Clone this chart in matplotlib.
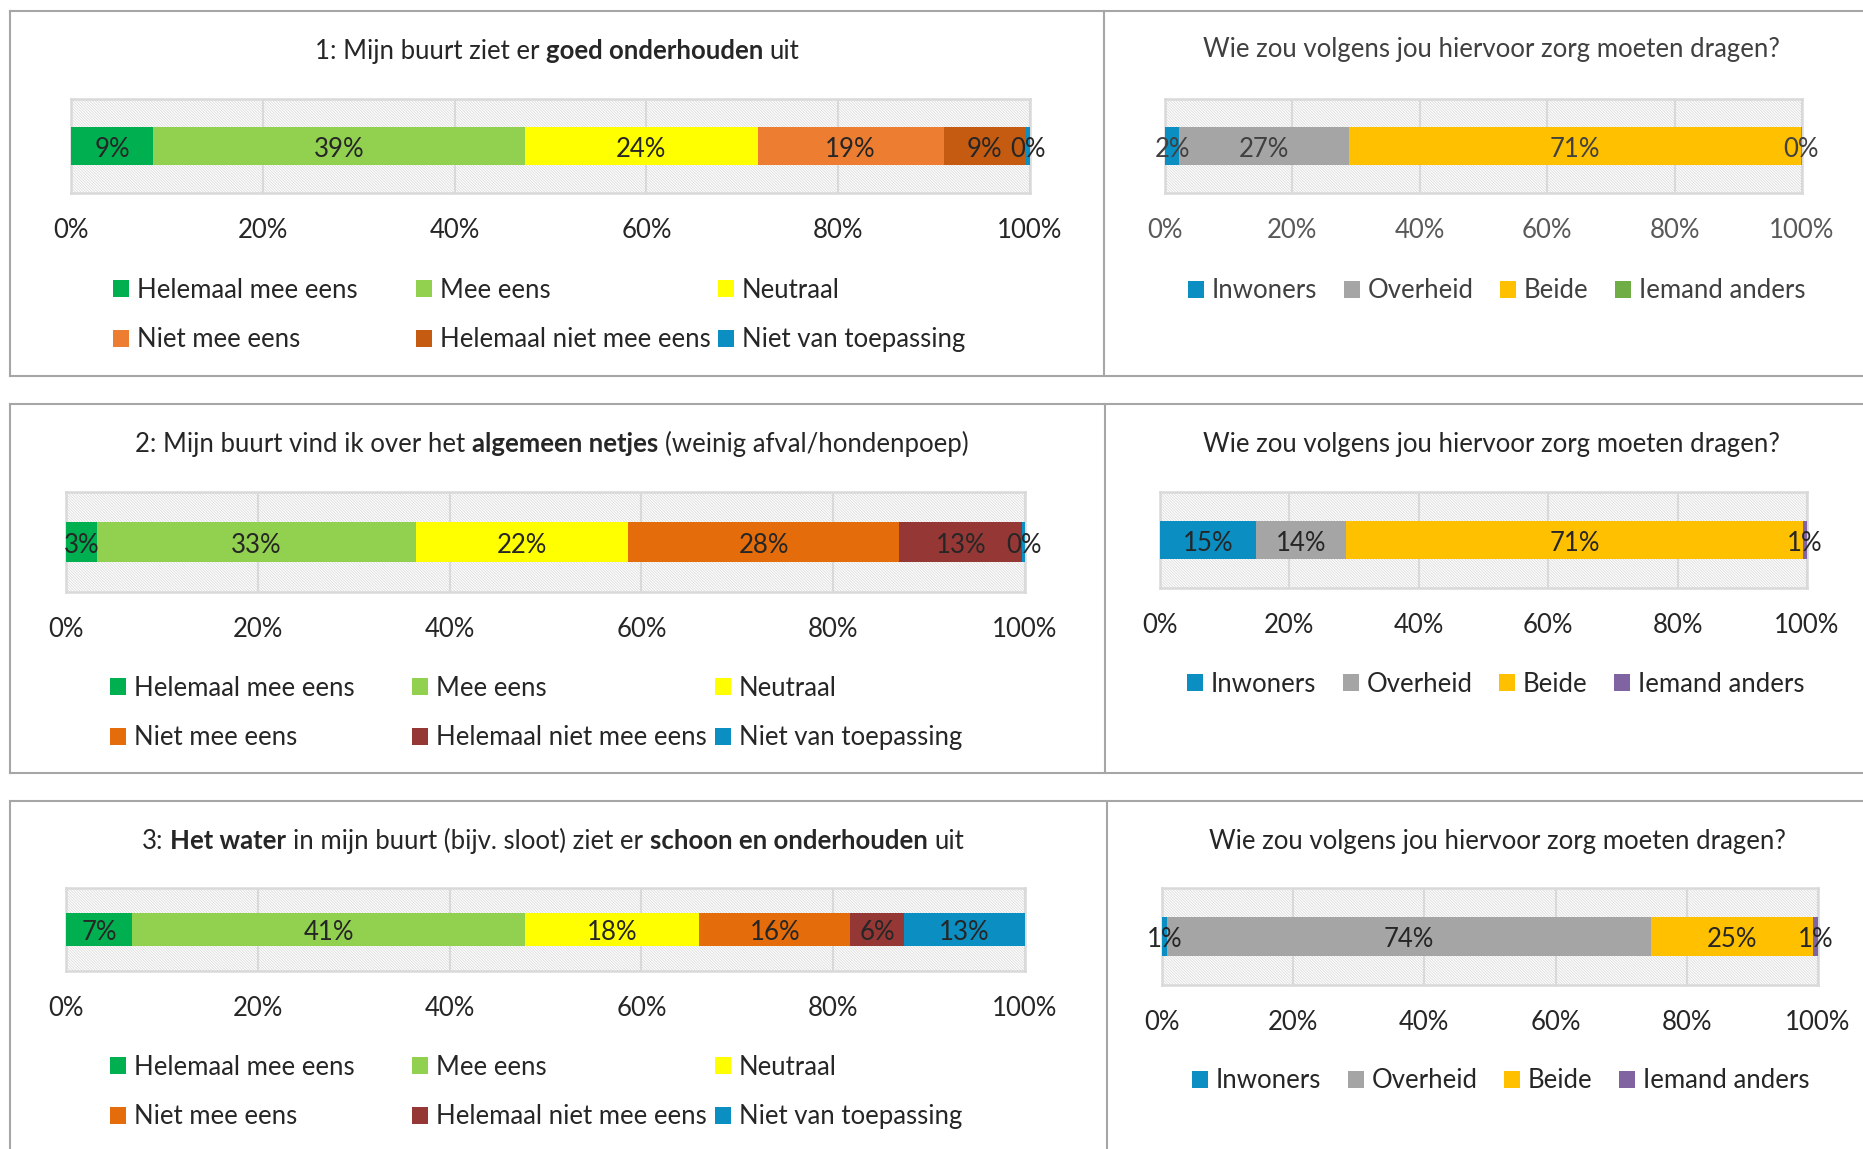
import matplotlib
matplotlib.use("Agg")
import matplotlib.pyplot as plt
from matplotlib.patches import Rectangle
from matplotlib.lines import Line2D

plt.rcParams['font.family'] = ['Lato', 'DejaVu Sans']
plt.rcParams['hatch.color'] = '#D9D9D9'
plt.rcParams['hatch.linewidth'] = 0.55

# data (percent per answer)
agree_cats = ["Helemaal mee eens", "Mee eens", "Neutraal", "Niet mee eens",
              "Helemaal niet mee eens", "Niet van toepassing"]
who_cats = ["Inwoners", "Overheid", "Beide", "Iemand anders"]

q1_vals = [8.6, 38.7, 24.3, 19.4, 8.6, 0.4]
q2_vals = [3.2, 33.3, 22.1, 28.3, 12.8, 0.3]
q3_vals = [6.9, 41.0, 18.1, 15.8, 5.6, 12.6]

who1_vals = [2.2, 26.7, 70.9, 0.2]
who2_vals = [14.8, 13.9, 70.7, 0.6]
who3_vals = [0.7, 73.9, 24.6, 0.8]

ticks = [0, 20, 40, 60, 80, 100]
tick_labels = ["0%", "20%", "40%", "60%", "80%", "100%"]

q1_title = [("1: Mijn buurt ziet er", "normal"), ("goed onderhouden", "bold"), ("uit", "normal")]
q2_title = [("2: Mijn buurt vind ik over het", "normal"), ("algemeen netjes", "bold"),
            ("(weinig afval/hondenpoep)", "normal")]
q3_title = [("3:", "normal"), ("Het water", "bold"), ("in mijn buurt (bijv. sloot) ziet er", "normal"),
            ("schoon en onderhouden", "bold"), ("uit", "normal")]
who_title = [("Wie zou volgens jou hiervoor zorg moeten dragen?", "normal")]

col_agree1 = ['#00B050', '#92D050', '#FFFF00', '#ED7D31', '#C55A11', '#0B8EC2']
col_agree23 = ['#00B050', '#92D050', '#FFFF00', '#E46C0A', '#953735', '#0B8EC2']
col_who1 = ['#0B8EC2', '#A5A5A5', '#FFC000', '#70AD47']
col_who23 = ['#0B8EC2', '#A5A5A5', '#FFC000', '#8064A2']

W, H = 1863, 1149
fig = plt.figure(figsize=(W / 100, H / 100), dpi=100)
FS = 18.5


def fx(px):
    return px / W


def fy(py):
    return 1 - py / H


def rich_title(pieces, cx, base_y, color):
    r = fig.canvas.get_renderer()
    sp = fig.text(0, 0, "a a", fontsize=FS)
    sp2 = fig.text(0, 0, "aa", fontsize=FS)
    space = sp.get_window_extent(r).width - sp2.get_window_extent(r).width
    sp.remove()
    sp2.remove()
    texts = []
    widths = []
    for s, w in pieces:
        t = fig.text(0, fy(base_y), s, fontsize=FS, fontweight=w, color=color, va='baseline', ha='left')
        texts.append(t)
        widths.append(t.get_window_extent(r).width)
    total = sum(widths) + space * (len(pieces) - 1)
    x = cx - total / 2
    for t, w in zip(texts, widths):
        t.set_x(fx(x))
        x += w + space


def chart(box, vals, cats, colors, title, title_xy, txtc, leg, tickc=None):
    x0, y0, x1, y1 = box
    ax = fig.add_axes([fx(x0), fy(y1), fx(x1 - x0), (y1 - y0) / H])
    ax.set_xlim(0, 100)
    ax.set_ylim(-0.5, 0.5)
    ax.add_patch(Rectangle((0, -0.5), 100, 1, facecolor='white', edgecolor='#D9D9D9',
                           hatch='\\' * 12, lw=0, zorder=0.2))
    ax.set_axisbelow(True)
    ax.grid(axis='x', color='#D9D9D9', lw=1.5)
    for s in ax.spines.values():
        s.set_color('#D9D9D9')
        s.set_linewidth(1.8)
    handles = []
    left = 0
    for v, c, lab in zip(vals, colors, cats):
        b = ax.barh(0, v, left=left, height=0.4, color=c, label=lab, zorder=3)
        anns = ax.bar_label(b, labels=[f"{v:.0f}%"], label_type='center', fontsize=FS,
                            color=txtc, zorder=4)
        for a in anns:
            a.xyann = (0, -2.5)
        handles.append(b.patches[0])
        left += v
    ax.set_yticks([])
    ax.set_xticks(ticks)
    ax.set_xticklabels(tick_labels, fontsize=FS, color=tickc or txtc)
    ax.tick_params(axis='x', length=0, pad=18)
    rich_title(title, title_xy[0], title_xy[1], txtc)

    common = dict(fontsize=FS, frameon=False, borderpad=0, borderaxespad=0,
                  handlelength=0.62, handleheight=0.62, handletextpad=0.3,
                  labelcolor=txtc, bbox_transform=fig.transFigure, loc='center left')
    if leg[0] == 'cols':
        xs, yc = leg[1], leg[2]
        for j, lx in enumerate(xs):
            fig.legend([handles[j], handles[j + 3]], [cats[j], cats[j + 3]],
                       bbox_to_anchor=(fx(lx), fy(yc)), labelspacing=0.96, **common)
    else:
        lx, yc = leg[1], leg[2]
        fig.legend(handles, cats, ncol=len(cats), bbox_to_anchor=(fx(lx), fy(yc)),
                   columnspacing=1.04, **common)
    return ax


chart((71, 99, 1030, 193), q1_vals, agree_cats, col_agree1, q1_title, (557, 59), '#262626',
      ('cols', [113, 416, 718], 315))
chart((1165, 99, 1802, 193), who1_vals, who_cats, col_who1, who_title, (1491, 57), '#404040',
      ('row', 1188, 291), tickc='#595959')
chart((66, 492, 1025, 592), q2_vals, agree_cats, col_agree23, q2_title, (552, 452), '#262626',
      ('cols', [110, 412, 715], 713))
chart((1160, 492, 1807, 588), who2_vals, who_cats, col_who23, who_title, (1491, 452), '#262626',
      ('row', 1187, 684))
chart((66, 888, 1025, 971), q3_vals, agree_cats, col_agree23, q3_title, (553, 849), '#262626',
      ('cols', [110, 412, 715], 1092))
chart((1162, 888, 1818, 985), who3_vals, who_cats, col_who23, who_title, (1497, 849), '#262626',
      ('row', 1192, 1081))

# panel borders
def hline(y, xa, xb):
    fig.add_artist(Line2D([fx(xa), fx(xb)], [fy(y), fy(y)], color='#A6A6A6', lw=1.5))


def vline(x, ya, yb):
    fig.add_artist(Line2D([fx(x), fx(x)], [fy(ya), fy(yb)], color='#A6A6A6', lw=1.5))


hline(11, 10, W)
hline(376, 10, W)
vline(10, 11, 376)
vline(1104, 11, 376)
hline(404, 10, W)
hline(773, 10, W)
vline(10, 404, 773)
vline(1105, 404, 773)
hline(801, 10, W)
vline(10, 801, H)
vline(1107, 801, H)

fig.savefig("out.png", dpi=100)
